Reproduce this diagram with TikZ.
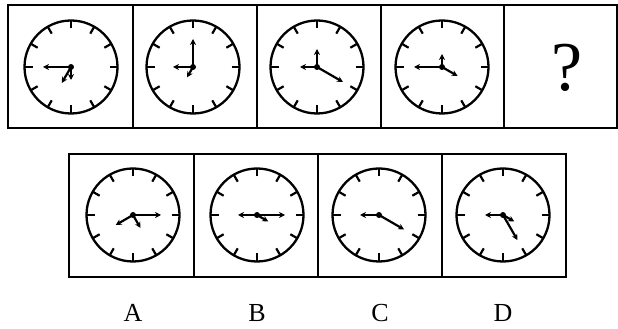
\documentclass[tikz,border=0pt]{standalone}
\usepackage{fontspec}
\setmainfont{Liberation Serif}
\usetikzlibrary{arrows.meta}
\begin{document}
\begin{tikzpicture}[x=1pt,y=1pt,
  box/.style={draw, line width=2.2pt, minimum height=123pt, inner sep=0pt},
  face/.style={draw, circle, line width=2.3pt, minimum size=93pt, inner sep=0pt},
  tickmark/.style={line width=2.2pt},
  hand/.style={line width=2.2pt, -{Stealth[length=6pt,width=6pt]}},
  lab/.style={font=\fontsize{26}{26}\selectfont, inner sep=0pt}]
\useasboundingbox (0,0) rectangle (618,329);
\newcommand{\clockface}[3]{%
  \node[face] (#1) at (#2,#3) {};
  \foreach \a in {0,30,...,330}
    \draw[tickmark] ([shift={(\a:38.5)}]#1.center) -- ([shift={(\a:46.5)}]#1.center);
  \fill (#1.center) circle (3);
}
% top row boxes
\node[box, minimum width=125pt] (t1) at (70.5,262.5) {};
\node[box, minimum width=124pt] (t2) at (195,262.5) {};
\node[box, minimum width=124pt] (t3) at (319,262.5) {};
\node[box, minimum width=123pt] (t4) at (442.5,262.5) {};
\node[box, minimum width=113pt] (t5) at (560.5,262.5) {};
% bottom row boxes
\node[box, minimum width=125pt] (b1) at (131.5,113.5) {};
\node[box, minimum width=124pt] (b2) at (256,113.5) {};
\node[box, minimum width=124pt] (b3) at (380,113.5) {};
\node[box, minimum width=124pt] (b4) at (504,113.5) {};
% clocks top
\clockface{k1}{71}{262}
\draw[hand] (k1.center) -- ++(180:28);
\draw[hand] (k1.center) -- ++(-120:18.5);
\draw[hand] (k1.center) -- ++(-90:13);
\clockface{k2}{193}{262}
\draw[hand] (k2.center) -- ++(90:28);
\draw[hand] (k2.center) -- ++(180:20);
\draw[hand] (k2.center) -- ++(-120:12);
\clockface{k3}{317}{262}
\draw[hand] (k3.center) -- ++(90:18);
\draw[hand] (k3.center) -- ++(180:17);
\draw[hand] (k3.center) -- ++(-30:30);
\clockface{k4}{442}{262}
\draw[hand] (k4.center) -- ++(90:13);
\draw[hand] (k4.center) -- ++(180:28);
\draw[hand] (k4.center) -- ++(-30:18);
\node[font=\fontsize{70}{70}\selectfont, inner sep=0pt] (q) at (567,261.5) {?};
% clocks bottom
\clockface{kA}{133}{114}
\draw[hand] (kA.center) -- ++(0:28);
\draw[hand] (kA.center) -- ++(-150:20);
\draw[hand] (kA.center) -- ++(-60:15);
\clockface{kB}{257}{114}
\draw[hand] (kB.center) -- ++(180:19);
\draw[hand] (kB.center) -- ++(0:28);
\draw[hand] (kB.center) -- ++(-30:13);
\clockface{kC}{379}{114}
\draw[hand] (kC.center) -- ++(180:19);
\draw[hand] (kC.center) -- ++(-30:29);
\clockface{kD}{503}{114}
\draw[hand] (kD.center) -- ++(180:18);
\draw[hand] (kD.center) -- ++(-30:13);
\draw[hand] (kD.center) -- ++(-60:29);
% labels
\node[lab] (lA) at (133,16) {A};
\node[lab] (lB) at (257,16) {B};
\node[lab] (lC) at (380,16) {C};
\node[lab] (lD) at (503,16) {D};
\end{tikzpicture}
\end{document}
